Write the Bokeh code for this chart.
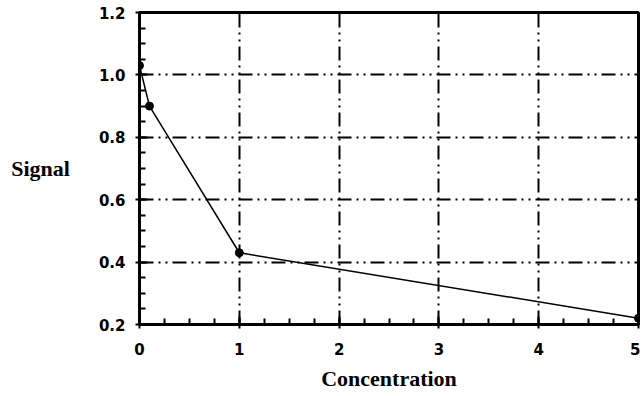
from bokeh.plotting import figure
from bokeh.models import FixedTicker, NumeralTickFormatter, Range1d
from bokeh.embed import file_html
from bokeh.resources import INLINE

concentration = [0, 0.1, 1, 5]
signal = [1.03, 0.9, 0.43, 0.22]
x_ticks = [0, 1, 2, 3, 4, 5]
y_ticks = [0.2, 0.4, 0.6, 0.8, 1.0, 1.2]

p = figure(width=640, height=394, output_backend="svg", toolbar_location=None,
           x_range=Range1d(0, 5), y_range=Range1d(0.2, 1.2),
           min_border_left=139, min_border_right=2, min_border_top=12, min_border_bottom=70)
p.background_fill_color = "white"
p.border_fill_color = "white"
p.outline_line_color = "black"
p.outline_line_width = 3

for ax in (p.xaxis[0], p.yaxis[0]):
    ax.axis_line_width = 3
    ax.axis_line_color = "black"
    ax.major_tick_line_width = 2
    ax.minor_tick_line_width = 2
    ax.major_tick_in = 8
    ax.major_tick_out = 4
    ax.minor_tick_in = 6
    ax.minor_tick_out = 0
    ax.major_label_text_font = "DejaVu Sans"
    ax.major_label_text_font_style = "bold"
    ax.major_label_text_font_size = "15px"
    ax.major_label_text_color = "black"
    ax.axis_label_text_font = "Liberation Serif"
    ax.axis_label_text_font_style = "bold"
    ax.axis_label_text_font_size = "22px"
    ax.axis_label_text_color = "black"

p.xaxis[0].ticker = FixedTicker(ticks=x_ticks, minor_ticks=[i * 0.25 for i in range(21)])
p.yaxis[0].ticker = FixedTicker(ticks=y_ticks, minor_ticks=[0.2 + i * 0.05 for i in range(21)])
p.yaxis[0].formatter = NumeralTickFormatter(format="0.0")
p.xaxis[0].axis_label = "Concentration"
p.yaxis[0].axis_label = "Signal"
p.yaxis[0].axis_label_orientation = "horizontal"
p.yaxis[0].axis_label_standoff = 26
p.xaxis[0].axis_label_standoff = 8
p.xaxis[0].major_label_standoff = 14
p.yaxis[0].major_label_standoff = 10

for g in (p.xgrid[0], p.ygrid[0]):
    g.grid_line_color = "black"
    g.grid_line_width = 2
    g.grid_line_dash = "14 5 2 5 2 5"

p.line(concentration, signal, line_color="black", line_width=1.5)
p.scatter(concentration, signal, size=8, fill_color="black", line_color="black")

open("out.html", "w").write(file_html(p, INLINE))
